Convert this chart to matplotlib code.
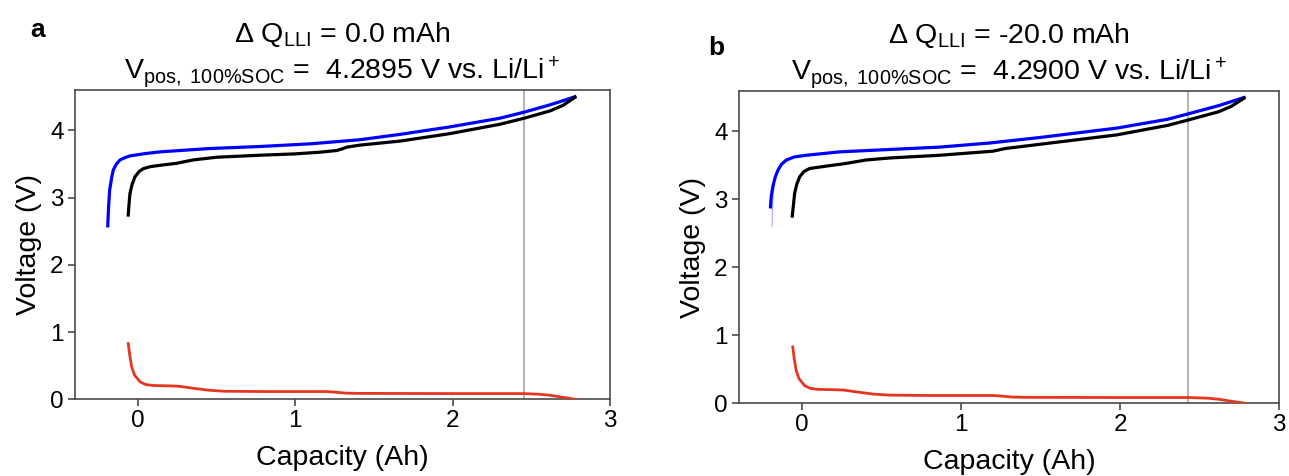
import matplotlib
matplotlib.use("Agg")
import matplotlib.pyplot as plt

plt.rcParams['font.family'] = ['Liberation Sans', 'DejaVu Sans']
plt.rcParams['mathtext.fontset'] = 'custom'
plt.rcParams['mathtext.rm'] = 'Liberation Sans'
plt.rcParams['mathtext.it'] = 'Liberation Sans'
plt.rcParams['mathtext.bf'] = 'Liberation Sans:bold'

# ---- panel a: dQ_LLI = 0.0 mAh ----
a_pos_cap = [-0.19, -0.185, -0.178, -0.165, -0.155, -0.135, -0.112, -0.08, -0.049, 0.05, 0.142,
             0.30, 0.46, 0.78, 1.10, 1.41, 1.666, 1.98, 2.30, 2.454, 2.62, 2.70, 2.777]
a_pos_v = [2.58, 2.85, 3.11, 3.30, 3.41, 3.50, 3.56, 3.595, 3.62, 3.655, 3.68,
           3.705, 3.73, 3.76, 3.80, 3.86, 3.94, 4.05, 4.18, 4.27, 4.38, 4.44, 4.50]

a_full_cap = [-0.06, -0.055, -0.049, -0.035, -0.017, 0.01, 0.036, 0.08, 0.142, 0.248, 0.30, 0.353,
              0.50, 0.777, 1.0, 1.158, 1.264, 1.30, 1.328, 1.41, 1.666, 1.98, 2.30, 2.454, 2.62,
              2.70, 2.777]
a_full_v = [2.74, 2.90, 3.06, 3.20, 3.31, 3.39, 3.43, 3.46, 3.48, 3.51, 3.535, 3.56,
            3.60, 3.63, 3.65, 3.675, 3.70, 3.725, 3.75, 3.78, 3.84, 3.95, 4.09, 4.18, 4.29,
            4.37, 4.49]

a_neg_cap = [-0.06, -0.05, -0.038, -0.02, 0.015, 0.05, 0.10, 0.20, 0.26, 0.35, 0.45, 0.55,
             0.80, 1.20, 1.26, 1.32, 1.40, 2.00, 2.454, 2.55, 2.62, 2.70, 2.78]
a_neg_v = [0.83, 0.65, 0.48, 0.36, 0.26, 0.22, 0.205, 0.20, 0.195, 0.165, 0.135, 0.12,
           0.115, 0.115, 0.105, 0.092, 0.088, 0.085, 0.085, 0.075, 0.06, 0.03, 0.0]
a_cutoff = 2.454

# ---- panel b: dQ_LLI = -20.0 mAh ----
b_pos_cap = [-0.20, -0.195, -0.185, -0.170, -0.153, -0.13, -0.10, -0.05, 0.025, 0.235, 0.55,
             0.864, 1.178, 1.49, 1.98, 2.30, 2.43, 2.62, 2.70, 2.78]
b_pos_v = [2.89, 3.05, 3.19, 3.33, 3.43, 3.52, 3.58, 3.625, 3.65, 3.70, 3.735,
           3.77, 3.83, 3.91, 4.05, 4.18, 4.26, 4.38, 4.44, 4.50]
b_pos_tail_cap = [-0.19, -0.188, -0.182, -0.172, -0.155]
b_pos_tail_v = [2.60, 2.85, 3.10, 3.30, 3.43]

b_full_cap = [-0.063, -0.055, -0.048, -0.035, -0.017, 0.01, 0.046, 0.15, 0.277, 0.40, 0.55,
              0.864, 1.2, 1.24, 1.28, 1.49, 1.98, 2.30, 2.43, 2.62, 2.70, 2.78]
b_full_v = [2.755, 2.93, 3.09, 3.22, 3.33, 3.41, 3.455, 3.49, 3.53, 3.58, 3.61,
            3.65, 3.71, 3.73, 3.75, 3.81, 3.95, 4.09, 4.17, 4.29, 4.37, 4.49]

b_neg_cap = [-0.06, -0.05, -0.038, -0.02, 0.015, 0.05, 0.10, 0.20, 0.26, 0.35, 0.45, 0.55,
             0.80, 1.20, 1.26, 1.32, 1.40, 2.00, 2.43, 2.55, 2.62, 2.70, 2.79]
b_neg_v = [0.83, 0.65, 0.48, 0.36, 0.26, 0.22, 0.205, 0.20, 0.195, 0.165, 0.135, 0.12,
           0.115, 0.115, 0.105, 0.092, 0.088, 0.085, 0.085, 0.075, 0.06, 0.03, 0.0]
b_cutoff = 2.43

titles = [r'$\Delta$ Q$_{\mathrm{LLI}}$ = 0.0 mAh' + '\n' +
          r'V$_{\mathrm{pos,\ 100\%SOC}}$ =  4.2895 V vs. Li/Li$^+$',
          r'$\Delta$ Q$_{\mathrm{LLI}}$ = -20.0 mAh' + '\n' +
          r'V$_{\mathrm{pos,\ 100\%SOC}}$ =  4.2900 V vs. Li/Li$^+$']

xticks = [0, 1, 2, 3]
yticks = [0, 1, 2, 3, 4]

W, H = 1289, 476
fig = plt.figure(figsize=(W / 100, H / 100), dpi=100)
ax_a = fig.add_axes([74.7 / W, 1 - 399.3 / H, (610 - 74.7) / W, (399.3 - 90) / H])
ax_b = fig.add_axes([738.7 / W, 1 - 403.3 / H, (1279 - 738.7) / W, (403.3 - 90.7) / H])

blue = '#0000ff'
red = '#e5361f'
spine_col = '#4a4a4a'

panels = [
    (ax_a, a_pos_cap, a_pos_v, a_full_cap, a_full_v, a_neg_cap, a_neg_v, a_cutoff, None),
    (ax_b, b_pos_cap, b_pos_v, b_full_cap, b_full_v, b_neg_cap, b_neg_v, b_cutoff,
     (b_pos_tail_cap, b_pos_tail_v)),
]

for i, (ax, pc, pv, fc, fv, nc, nv, cut, tail) in enumerate(panels):
    ax.axvline(cut, color='#b5b5b5', lw=1.5, zorder=1)
    if tail is not None:
        ax.plot(tail[0], tail[1], color=blue, lw=0.8, alpha=0.35, zorder=2)
    ax.plot(pc, pv, color=blue, lw=2.3, zorder=3, solid_joinstyle='round')
    ax.plot(fc, fv, color='black', lw=2.3, zorder=3, solid_joinstyle='round')
    ax.plot(nc, nv, color=red, lw=2.0, zorder=3, solid_joinstyle='round')
    ax.set_xlim(-0.4, 3.0)
    ax.set_ylim(0, 4.6)
    ax.set_xticks(xticks)
    ax.set_yticks(yticks)
    ax.tick_params(direction='out', length=5, width=1.2, color=spine_col,
                   labelsize=17.5, pad=3)
    for s in ax.spines.values():
        s.set_color(spine_col)
        s.set_linewidth(1.2)
    ax.set_xlabel('Capacity (Ah)', fontsize=20.5, labelpad=9)
    ax.set_ylabel('Voltage (V)', fontsize=20.5, labelpad=6)
    ax.set_title(titles[i], fontsize=20.5, linespacing=1.22, pad=3)

fig.text(30 / W, 1 - 37 / H, 'a', fontsize=19, fontweight='bold')
fig.text(708 / W, 1 - 55 / H, 'b', fontsize=19, fontweight='bold')

fig.savefig('out.png', dpi=100)
